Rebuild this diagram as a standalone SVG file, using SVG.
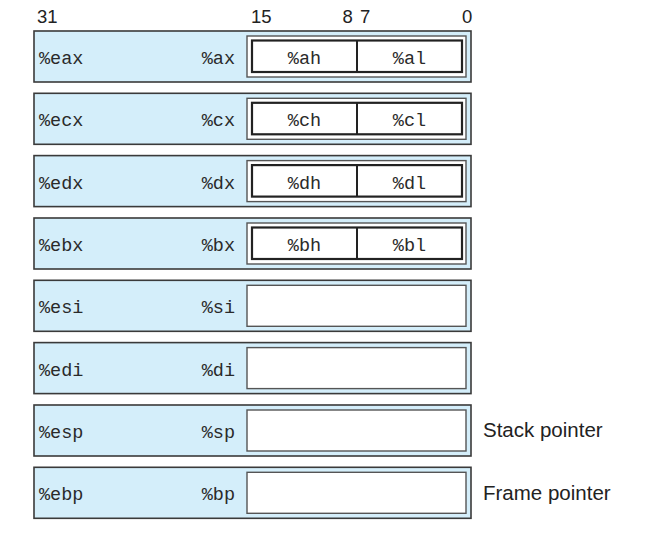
<svg xmlns="http://www.w3.org/2000/svg" width="667" height="540" viewBox="0 0 667 540">
<style>
.reg{fill:#d4eefa;stroke:#3a3a3a;stroke-width:1.6}
.low{fill:#fff;stroke:#555;stroke-width:1.4}
.byte{fill:#fff;stroke:#222;stroke-width:2.2}
.mono{font-family:"Liberation Mono","DejaVu Sans Mono",monospace;font-size:18.5px;fill:#2a2a2a}
.sans{font-family:"Liberation Sans",Arial,sans-serif;font-size:18.5px;fill:#222}
.note{font-family:"Liberation Sans",Arial,sans-serif;font-size:20.5px;fill:#222}
</style>
<rect width="667" height="540" fill="#fff"/>
<g id="bits" class="sans">
<text x="37" y="23">31</text>
<text x="251" y="23">15</text>
<text x="342.5" y="23">8</text>
<text x="360" y="23">7</text>
<text x="462" y="23">0</text>
</g>
<g id="eax">
<rect class="reg" x="34" y="31" width="437" height="51"/>
<rect class="low" x="247" y="36" width="219" height="41"/>
<rect class="byte" x="252" y="40.5" width="210" height="31.5"/>
<line x1="357" y1="40.5" x2="357" y2="72" stroke="#222" stroke-width="2"/>
<text class="mono" x="39" y="64">%eax</text>
<text class="mono" x="235" y="64" text-anchor="end">%ax</text>
<text class="mono" x="304.5" y="64" text-anchor="middle">%ah</text>
<text class="mono" x="409.5" y="64" text-anchor="middle">%al</text>
</g>
<g id="ecx" transform="translate(0,62.3)">
<rect class="reg" x="34" y="31" width="437" height="51"/>
<rect class="low" x="247" y="36" width="219" height="41"/>
<rect class="byte" x="252" y="40.5" width="210" height="31.5"/>
<line x1="357" y1="40.5" x2="357" y2="72" stroke="#222" stroke-width="2"/>
<text class="mono" x="39" y="64">%ecx</text>
<text class="mono" x="235" y="64" text-anchor="end">%cx</text>
<text class="mono" x="304.5" y="64" text-anchor="middle">%ch</text>
<text class="mono" x="409.5" y="64" text-anchor="middle">%cl</text>
</g>
<g id="edx" transform="translate(0,124.6)">
<rect class="reg" x="34" y="31" width="437" height="51"/>
<rect class="low" x="247" y="36" width="219" height="41"/>
<rect class="byte" x="252" y="40.5" width="210" height="31.5"/>
<line x1="357" y1="40.5" x2="357" y2="72" stroke="#222" stroke-width="2"/>
<text class="mono" x="39" y="64">%edx</text>
<text class="mono" x="235" y="64" text-anchor="end">%dx</text>
<text class="mono" x="304.5" y="64" text-anchor="middle">%dh</text>
<text class="mono" x="409.5" y="64" text-anchor="middle">%dl</text>
</g>
<g id="ebx" transform="translate(0,187)">
<rect class="reg" x="34" y="31" width="437" height="51"/>
<rect class="low" x="247" y="36" width="219" height="41"/>
<rect class="byte" x="252" y="40.5" width="210" height="31.5"/>
<line x1="357" y1="40.5" x2="357" y2="72" stroke="#222" stroke-width="2"/>
<text class="mono" x="39" y="64">%ebx</text>
<text class="mono" x="235" y="64" text-anchor="end">%bx</text>
<text class="mono" x="304.5" y="64" text-anchor="middle">%bh</text>
<text class="mono" x="409.5" y="64" text-anchor="middle">%bl</text>
</g>
<g id="esi" transform="translate(0,249.3)">
<rect class="reg" x="34" y="31" width="437" height="51"/>
<rect class="low" x="247" y="36" width="219" height="41"/>
<text class="mono" x="39" y="64">%esi</text>
<text class="mono" x="235" y="64" text-anchor="end">%si</text>
</g>
<g id="edi" transform="translate(0,311.6)">
<rect class="reg" x="34" y="31" width="437" height="51"/>
<rect class="low" x="247" y="36" width="219" height="41"/>
<text class="mono" x="39" y="64">%edi</text>
<text class="mono" x="235" y="64" text-anchor="end">%di</text>
</g>
<g id="esp" transform="translate(0,374)">
<rect class="reg" x="34" y="31" width="437" height="51"/>
<rect class="low" x="247" y="36" width="219" height="41"/>
<text class="mono" x="39" y="64">%esp</text>
<text class="mono" x="235" y="64" text-anchor="end">%sp</text>
<text class="note" x="483" y="62.7">Stack pointer</text>
</g>
<g id="ebp" transform="translate(0,436.3)">
<rect class="reg" x="34" y="31" width="437" height="51"/>
<rect class="low" x="247" y="36" width="219" height="41"/>
<text class="mono" x="39" y="64">%ebp</text>
<text class="mono" x="235" y="64" text-anchor="end">%bp</text>
<text class="note" x="483" y="63.7">Frame pointer</text>
</g>
<g id="connectors"></g>
</svg>
